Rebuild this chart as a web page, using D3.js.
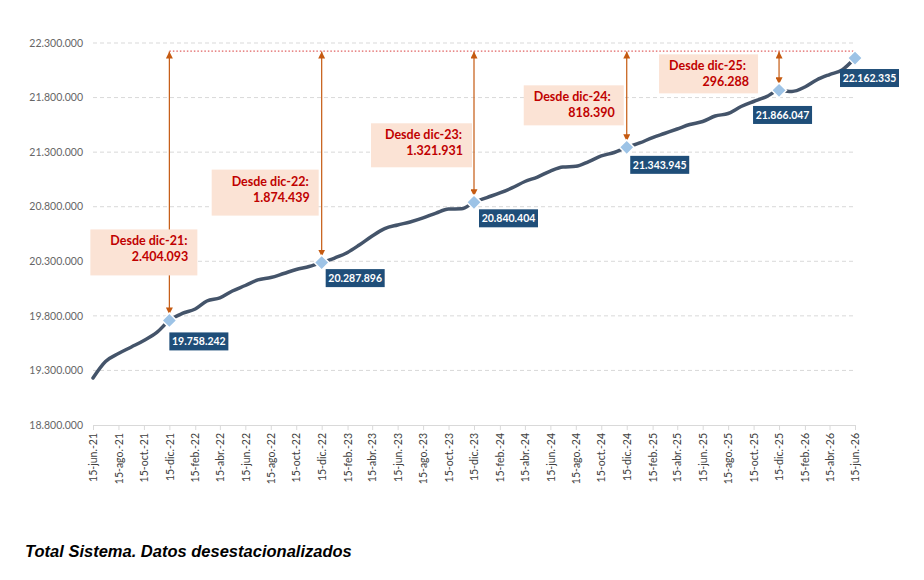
<!DOCTYPE html>
<html>
<head>
<meta charset="utf-8">
<script src="https://cdn.jsdelivr.net/npm/d3@7"></script>
<style>
  body { margin: 0; background: #fff; }
  svg { display: block; }
</style>
</head>
<body>
<div id="chart"></div>
<script>
// monthly points, 15th of each month (jun-21 .. jun-26)
const months = [
  "2021-06-15","2021-07-15","2021-08-15","2021-09-15","2021-10-15","2021-11-15","2021-12-15",
  "2022-01-15","2022-02-15","2022-03-15","2022-04-15","2022-05-15","2022-06-15",
  "2022-07-15","2022-08-15","2022-09-15","2022-10-15","2022-11-15","2022-12-15",
  "2023-01-15","2023-02-15","2023-03-15","2023-04-15","2023-05-15","2023-06-15",
  "2023-07-15","2023-08-15","2023-09-15","2023-10-15","2023-11-15","2023-12-15",
  "2024-01-15","2024-02-15","2024-03-15","2024-04-15","2024-05-15","2024-06-15",
  "2024-07-15","2024-08-15","2024-09-15","2024-10-15","2024-11-15","2024-12-15",
  "2025-01-15","2025-02-15","2025-03-15","2025-04-15","2025-05-15","2025-06-15",
  "2025-07-15","2025-08-15","2025-09-15","2025-10-15","2025-11-15","2025-12-15",
  "2026-01-15","2026-02-15","2026-03-15","2026-04-15","2026-05-15","2026-06-15"
];

const afiliados = [
  19231000, 19382000, 19455000, 19515000, 19574000, 19648000, 19758242,
  19822000, 19863000, 19936000, 19964000, 20028000, 20078000,
  20129000, 20151000, 20188000, 20225000, 20252000, 20287896,
  20330000, 20381000, 20449000, 20532000, 20600000, 20633000,
  20660000, 20697000, 20742000, 20779000, 20781000, 20840404,
  20884000, 20926000, 20972000, 21031000, 21072000, 21127000,
  21164000, 21170000, 21214000, 21265000, 21297000, 21343945,
  21384000, 21434000, 21471000, 21512000, 21553000, 21581000,
  21631000, 21654000, 21718000, 21764000, 21808000, 21866047,
  21856000, 21897000, 21961000, 22011000, 22053000, 22162335
];

// December reference points and the last observation
const refDates = ["2021-12-15", "2022-12-15", "2023-12-15", "2024-12-15", "2025-12-15"];
const refNames = ["dic-21", "dic-22", "dic-23", "dic-24", "dic-25"];
const lastDate = "2026-06-15";

const yTicks = [18800000, 19300000, 19800000, 20300000, 20800000, 21300000, 21800000, 22300000];
const mesesAbr = ["ene", "feb", "mar", "abr", "may", "jun", "jul", "ago", "sep", "oct", "nov", "dic"];
const caption = "Total Sistema. Datos desestacionalizados";

// layout of the annotation boxes (pixel offsets from arrow x / marker y)
const boxLayout = [
  { dx: -79,  dy: -91, w: 107, h: 46, lead: "right" },
  { dx: -110, dy: -93, w: 107, h: 46, lead: "right" },
  { dx: -103, dy: -79, w: 101, h: 44, lead: "right" },
  { dx: -103, dy: -62, w: 100, h: 40, lead: "left" },
  { dx: -120, dy: -36, w: 99,  h: 39, lead: "left" }
];
const tagLayout = [
  { dx: 0, dy: 12 }, { dx: 4, dy: 6.5 }, { dx: 5, dy: 7 },
  { dx: 3.5, dy: 8.5 }, { dx: -26, dy: 15.6 }, { dx: -15, dy: 11 }
];

const width = 924, height = 580;
const parse = d3.utcParse("%Y-%m-%d");
const es = d3.formatLocale({ decimal: ",", thousands: ".", grouping: [3], currency: ["", " €"] });
const fmt = es.format(",d");

const data = months.map((m, i) => ({ date: parse(m), value: afiliados[i] }));
const byDate = new Map(months.map((m, i) => [m, afiliados[i]]));

const x = d3.scaleUtc()
    .domain([parse(months[0]), parse(lastDate)])
    .range([93, 855]);
const y = d3.scaleLinear()
    .domain([yTicks[0], yTicks[yTicks.length - 1]])
    .range([425, 43]);

const svg = d3.select('#chart')
    .append('svg')
    .attr('width', width)
    .attr('height', height)
    .attr('viewBox', `0 0 ${width} ${height}`);

svg.append('rect').attr('width', width).attr('height', height).attr('fill', '#fff');

const defs = svg.append('defs');
defs.append('marker')
    .attr('id', 'arrow')
    .attr('viewBox', '0 0 10 10')
    .attr('refX', 10).attr('refY', 5)
    .attr('markerWidth', 7).attr('markerHeight', 7)
    .attr('markerUnits', 'userSpaceOnUse')
    .attr('orient', 'auto-start-reverse')
    .append('path')
    .attr('d', 'M0,0L10,5L0,10Z')
    .attr('fill', '#C55A11');

// gridlines
svg.append('g')
    .selectAll('line')
    .data(yTicks.slice(1))
    .enter().append('line')
    .attr('x1', x.range()[0]).attr('x2', x.range()[1])
    .attr('y1', d => y(d)).attr('y2', d => y(d))
    .attr('stroke', '#D9D9D9')
    .attr('stroke-width', 1)
    .attr('stroke-dasharray', '4,3');

// y labels
svg.append('g')
    .selectAll('text')
    .data(yTicks)
    .enter().append('text')
    .attr('x', 83)
    .attr('y', d => y(d))
    .attr('dy', '0.35em')
    .attr('text-anchor', 'end')
    .attr('font-family', 'Lato, sans-serif')
    .attr('font-size', 10.5)
    .attr('fill', '#666')
    .text(d => fmt(d));

// x axis: every two months from jun-21
const xTickValues = d3.utcMonth.range(parse("2021-06-01"), parse("2026-07-01"), 2)
    .map(d => d3.utcDay.offset(d, 14));
const xAxis = d3.axisBottom(x)
    .tickValues(xTickValues)
    .tickSize(5)
    .tickFormat(d => `15-${mesesAbr[d.getUTCMonth()]}.-${String(d.getUTCFullYear()).slice(2)}`);

const gx = svg.append('g')
    .attr('transform', `translate(0,${y(yTicks[0])})`)
    .call(xAxis);
gx.select('.domain').attr('stroke', '#D9D9D9').attr('d', `M${x.range()[0]},0.5H${x.range()[1]}`);
gx.selectAll('.tick line').attr('stroke', '#D9D9D9');
gx.selectAll('.tick text')
    .attr('transform', 'rotate(-90)')
    .attr('x', -8)
    .attr('y', 0)
    .attr('dy', '0.35em')
    .attr('text-anchor', 'end')
    .attr('font-family', 'Lato, sans-serif')
    .attr('font-size', 10.5)
    .attr('fill', '#404040');

// series line
const line = d3.line()
    .x(d => x(d.date))
    .y(d => y(d.value))
    .curve(d3.curveMonotoneX);

svg.append('path')
    .datum(data)
    .attr('d', line)
    .attr('fill', 'none')
    .attr('stroke', '#44546A')
    .attr('stroke-width', 3.5)
    .attr('stroke-linecap', 'round')
    .attr('stroke-linejoin', 'round');

const lastValue = byDate.get(lastDate);
const refY = y(lastValue) - 7;

// dotted reference line at the latest level
svg.append('line')
    .attr('x1', x(parse(refDates[0]))).attr('x2', x(parse(lastDate)))
    .attr('y1', refY).attr('y2', refY)
    .attr('stroke', '#E06060')
    .attr('stroke-width', 1.2)
    .attr('stroke-dasharray', '1.5,2');

const refs = refDates.map((d, i) => ({
    name: refNames[i],
    x: x(parse(d)),
    y: y(byDate.get(d)),
    diff: lastValue - byDate.get(d),
    box: boxLayout[i]
}));

// double arrows
svg.append('g')
    .selectAll('line')
    .data(refs)
    .enter().append('line')
    .attr('x1', d => d.x).attr('x2', d => d.x)
    .attr('y1', refY + 0.5)
    .attr('y2', d => d.y - 6)
    .attr('stroke', '#C55A11')
    .attr('stroke-width', 1.2)
    .attr('marker-start', 'url(#arrow)')
    .attr('marker-end', 'url(#arrow)');

// annotation boxes
const boxes = svg.append('g')
    .selectAll('g')
    .data(refs)
    .enter().append('g')
    .attr('transform', d => `translate(${d.x + d.box.dx},${d.y + d.box.dy})`);

boxes.append('rect')
    .attr('width', d => d.box.w)
    .attr('height', d => d.box.h)
    .attr('fill', '#FBE3D5');

boxes.append('text')
    .attr('x', d => d.box.lead === 'left' ? 10 : d.box.w - 10)
    .attr('y', 16)
    .attr('text-anchor', d => d.box.lead === 'left' ? 'start' : 'end')
    .attr('font-family', 'Lato, sans-serif')
    .attr('font-weight', 'bold')
    .attr('font-size', 12.5)
    .attr('fill', '#C00000')
    .text(d => `Desde ${d.name}:`);

boxes.append('text')
    .attr('x', d => d.box.w - 9)
    .attr('y', 32)
    .attr('text-anchor', 'end')
    .attr('font-family', 'Lato, sans-serif')
    .attr('font-weight', 'bold')
    .attr('font-size', 12.5)
    .attr('fill', '#C00000')
    .text(d => fmt(d.diff));

// markers and value tags
const points = refDates.concat([lastDate]).map((d, i) => ({
    x: x(parse(d)),
    y: y(byDate.get(d)),
    value: byDate.get(d),
    tag: tagLayout[i]
}));

svg.append('g')
    .selectAll('path')
    .data(points)
    .enter().append('path')
    .attr('d', d3.symbol().type(d3.symbolSquare).size(110))
    .attr('transform', d => `translate(${d.x},${d.y}) rotate(45)`)
    .attr('fill', '#9DC3E6')
    .attr('stroke', '#fff')
    .attr('stroke-width', 1.5);

const tags = svg.append('g')
    .selectAll('g')
    .data(points)
    .enter().append('g')
    .attr('transform', d => `translate(${d.x + d.tag.dx},${d.y + d.tag.dy})`);

tags.append('rect')
    .attr('width', 59)
    .attr('height', 18)
    .attr('fill', '#1F4E79');

tags.append('text')
    .attr('x', 29.5)
    .attr('y', 13)
    .attr('text-anchor', 'middle')
    .attr('font-family', 'Lato, sans-serif')
    .attr('font-weight', 'bold')
    .attr('font-size', 10.5)
    .attr('fill', '#fff')
    .text(d => fmt(d.value));

// caption
svg.append('text')
    .attr('x', 25)
    .attr('y', 557)
    .attr('font-family', '"Liberation Sans", Arial, sans-serif')
    .attr('font-weight', 'bold')
    .attr('font-style', 'italic')
    .attr('font-size', 16.5)
    .attr('fill', '#000')
    .text(caption);
</script>
</body>
</html>
